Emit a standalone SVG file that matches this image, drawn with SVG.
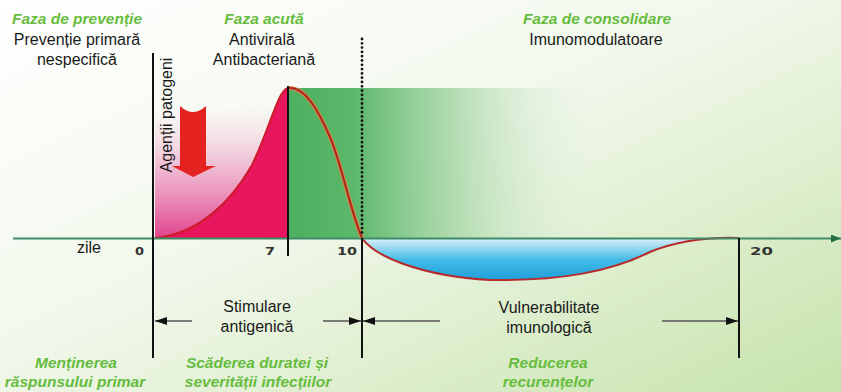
<svg xmlns="http://www.w3.org/2000/svg" width="841" height="392" viewBox="0 0 841 392">
<defs>
<style>
.h{font-family:"Liberation Sans",Arial,sans-serif;font-weight:bold;font-style:italic;font-size:15.5px;fill:#66bc3e;text-anchor:middle}
.t{font-family:"Liberation Sans",Arial,sans-serif;font-size:16px;fill:#1a1a1a;text-anchor:middle}
.n{font-family:"DejaVu Sans",sans-serif;font-weight:bold;font-size:11px;fill:#333}
.v{stroke:#111;stroke-width:2;fill:none}
.dim{stroke:#555;stroke-width:1.5;fill:none}
</style>
<linearGradient id="bg" x1="0" y1="0" x2="1" y2="1">
<stop offset="0" stop-color="#ffffff"/>
<stop offset="0.45" stop-color="#f2f8ec"/>
<stop offset="1" stop-color="#c6e3ab"/>
</linearGradient>
<linearGradient id="pink" x1="0" y1="0" x2="0" y2="1">
<stop offset="0" stop-color="#f7d3e4" stop-opacity="0"/>
<stop offset="0.45" stop-color="#eeaacb" stop-opacity="0.75"/>
<stop offset="1" stop-color="#e0428c"/>
</linearGradient>
<linearGradient id="green" x1="288" y1="0" x2="600" y2="0" gradientUnits="userSpaceOnUse">
<stop offset="0" stop-color="#4caf5f"/>
<stop offset="0.22" stop-color="#5db86c"/>
<stop offset="0.55" stop-color="#a3d5a3" stop-opacity="0.75"/>
<stop offset="1" stop-color="#e6f3e2" stop-opacity="0"/>
</linearGradient>
<linearGradient id="blue" x1="0" y1="239" x2="0" y2="281" gradientUnits="userSpaceOnUse">
<stop offset="0" stop-color="#d6eff7"/>
<stop offset="0.5" stop-color="#41bbe7"/>
<stop offset="1" stop-color="#1e9dd9"/>
</linearGradient>
<marker id="ah" viewBox="0 0 12 8" refX="12" refY="4" markerWidth="13" markerHeight="8" markerUnits="userSpaceOnUse" orient="auto">
<path d="M0,0 L12,4 L0,8 Z" fill="#111"/>
</marker>
<marker id="ax" viewBox="0 0 10 8" refX="10" refY="4" markerWidth="10" markerHeight="8" markerUnits="userSpaceOnUse" orient="auto">
<path d="M0,0 L10,4 L0,8 Z" fill="#1f6e45"/>
</marker>
</defs>

<rect id="background" x="0" y="0" width="841" height="392" fill="url(#bg)"/>

<g id="chart">
<rect x="155" y="105" width="133" height="133" fill="url(#pink)"/>
<rect x="288" y="88" width="312" height="150" fill="url(#green)"/>
<path d="M155,238 C200,234 232,200 252,165 C270,128 278,90 288,88 L288,238 Z" fill="#e8175d"/>
<path d="M155,238 C200,234 232,200 252,165 C270,128 278,90 288,88" fill="none" stroke="#cc1b2b" stroke-width="2"/>
<path d="M362,238 C374,256 420,276 490,280 C560,281 610,272 650,252 C680,240 710,237 739,238 Z" fill="url(#blue)"/>
<path d="M288,88 C305,86 318,110 330,137 C342,165 350,210 362,238" fill="none" stroke="#e98a3a" stroke-width="4"/>
<path d="M288,88 C305,86 318,110 330,137 C342,165 350,210 362,238" fill="none" stroke="#a52a28" stroke-width="2.2"/>
<path d="M362,238 C374,256 420,276 490,280 C560,281 610,272 650,252 C680,240 710,237 739,238" fill="none" stroke="#b82a2a" stroke-width="2"/>
<path id="red-arrow" d="M180,106 Q193,118 206,106 L206,166 L216,166 L193,177 L172,166 L180,166 Z" fill="#e42320"/>
<line x1="13" y1="238.5" x2="841" y2="238.5" stroke="#3f8a68" stroke-width="2" marker-end="url(#ax)"/>
<line class="v" x1="153" y1="53" x2="153" y2="358"/>
<line class="v" x1="288" y1="86" x2="288" y2="256"/>
<line x1="362" y1="39" x2="362" y2="236" stroke="#111" stroke-width="2.8" stroke-linecap="round" stroke-dasharray="0 4.3"/>
<line class="v" x1="362" y1="238" x2="362" y2="358"/>
<line class="v" x1="739" y1="238" x2="739" y2="358"/>
<text x="89" y="253" class="t" font-size="15">zile</text>
<text x="135" y="255" class="n" textLength="9" lengthAdjust="spacingAndGlyphs">0</text>
<text x="265" y="255" class="n" textLength="10" lengthAdjust="spacingAndGlyphs">7</text>
<text x="337" y="255" class="n" textLength="20" lengthAdjust="spacingAndGlyphs">10</text>
<text x="750" y="255" class="n" textLength="23" lengthAdjust="spacingAndGlyphs">20</text>
<text class="t" font-size="15" transform="translate(172,115) rotate(-90)">Agenții patogeni</text>
</g>

<g id="connectors">
<path class="dim" d="M192,321 L155,321" marker-end="url(#ah)"/>
<path class="dim" d="M323,321 L361,321" marker-end="url(#ah)"/>
<path class="dim" d="M440,321 L363,321" marker-end="url(#ah)"/>
<path class="dim" d="M662,321 L738,321" marker-end="url(#ah)"/>
</g>

<g id="phase-prevention">
<text x="77" y="24" class="h">Faza de prevenție</text>
<text x="77" y="45" class="t">Prevenție primară</text>
<text x="77" y="65" class="t">nespecifică</text>
</g>
<g id="phase-acute">
<text x="264" y="24" class="h">Faza acută</text>
<text x="262" y="45" class="t">Antivirală</text>
<text x="264" y="65" class="t">Antibacteriană</text>
</g>
<g id="phase-consolidation">
<text x="597" y="24" class="h">Faza de consolidare</text>
<text x="596" y="45" class="t">Imunomodulatoare</text>
</g>
<g id="label-stimulation">
<text x="257" y="312" class="t">Stimulare</text>
<text x="257" y="332" class="t">antigenică</text>
</g>
<g id="label-vulnerability">
<text x="549" y="313" class="t">Vulnerabilitate</text>
<text x="549" y="333" class="t">imunologică</text>
</g>
<g id="outcome-primary">
<text x="76" y="368" class="h">Menținerea</text>
<text x="75" y="387" class="h">răspunsului primar</text>
</g>
<g id="outcome-severity">
<text x="257" y="368" class="h">Scăderea duratei și</text>
<text x="258" y="387" class="h">severității infecțiilor</text>
</g>
<g id="outcome-recurrence">
<text x="548" y="368" class="h">Reducerea</text>
<text x="548" y="387" class="h">recurențelor</text>
</g>
</svg>
